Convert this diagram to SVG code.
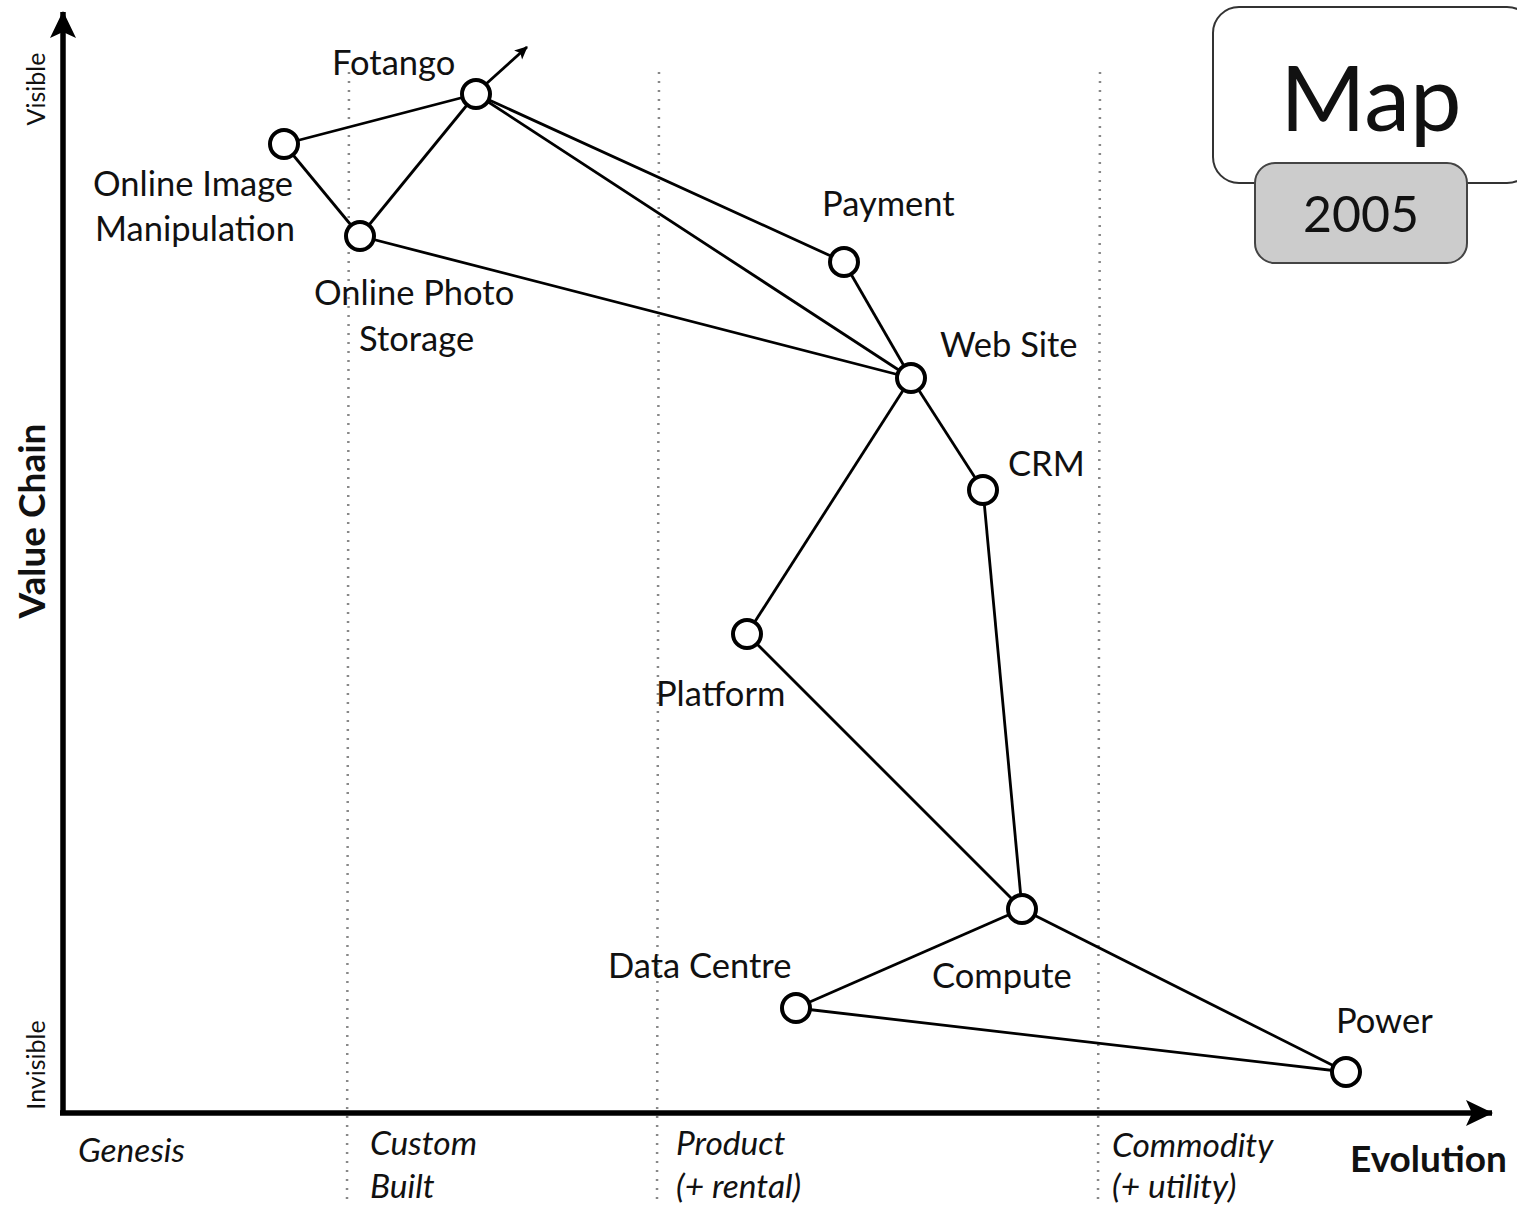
<svg xmlns="http://www.w3.org/2000/svg" width="1517" height="1209" viewBox="0 0 1517 1209">
<style>
text{font-family:Lato,"Open Sans","Liberation Sans",sans-serif;fill:#111}
.lbl{font-size:34.5px}
.ax{font-size:33.5px;font-style:italic}
.node{fill:#fff;stroke:#000;stroke-width:4}
.edge{stroke:#000;stroke-width:2.8;fill:none}
.dot{stroke:#888;stroke-width:2.5;stroke-dasharray:2 7;fill:none}
</style>
<defs>
<marker id="bigah" markerWidth="30" markerHeight="30" refX="26" refY="15" orient="auto" markerUnits="userSpaceOnUse" viewBox="0 0 30 30"><path d="M0,2 L27,15 L0,28 L6,15 Z" fill="#000"/></marker>
<marker id="smah" markerWidth="14" markerHeight="14" refX="12" refY="7" orient="auto" markerUnits="userSpaceOnUse" viewBox="0 0 14 14"><path d="M0,1 L13,7 L0,13 L3,7 Z" fill="#000"/></marker>
</defs>
<rect width="1517" height="1209" fill="#fff"/>
<g id="grid">
<line class="dot" x1="349" y1="72" x2="347" y2="1205"/>
<line class="dot" x1="659" y1="72" x2="657" y2="1205"/>
<line class="dot" x1="1100" y1="72" x2="1098" y2="1205"/>
</g>
<g id="axes">
<line x1="63" y1="1113" x2="63" y2="12" stroke="#000" stroke-width="5.5" marker-end="url(#bigah)"/>
<line x1="60" y1="1113" x2="1492" y2="1113" stroke="#000" stroke-width="5.5" marker-end="url(#bigah)"/>
<text transform="translate(45,521) rotate(-90)" text-anchor="middle" style="font-size:37px;font-weight:bold">Value Chain</text>
<text transform="translate(45,89) rotate(-90)" text-anchor="middle" style="font-size:25px">Visible</text>
<text transform="translate(45,1065) rotate(-90)" text-anchor="middle" style="font-size:25px">Invisible</text>
<text x="1350" y="1172" style="font-size:37px;font-weight:bold">Evolution</text>
<text class="ax" x="78" y="1162">Genesis</text>
<text class="ax" x="370" y="1155">Custom</text>
<text class="ax" x="370" y="1198">Built</text>
<text class="ax" x="676" y="1155">Product</text>
<text class="ax" x="676" y="1198">(+ rental)</text>
<text class="ax" x="1112" y="1157">Commodity</text>
<text class="ax" x="1112" y="1198">(+ utility)</text>
</g>
<g id="title">
<rect x="1213" y="7" width="320" height="176" rx="26" fill="#fff" stroke="#333" stroke-width="2"/>
<text x="1371" y="131" text-anchor="middle" style="font-size:92px">Map</text>
</g>
<g id="year">
<rect x="1255" y="163" width="212" height="100" rx="20" fill="#cccccc" stroke="#444" stroke-width="2"/>
<text x="1361" y="232" text-anchor="middle" style="font-size:50px">2005</text>
</g>
<g id="connectors">
<line class="edge" x1="284" y1="144" x2="476" y2="94"/>
<line class="edge" x1="284" y1="144" x2="360" y2="236"/>
<line class="edge" x1="360" y1="236" x2="476" y2="94"/>
<line class="edge" x1="476" y1="94" x2="844" y2="262"/>
<line class="edge" x1="476" y1="94" x2="911" y2="378"/>
<line class="edge" x1="360" y1="236" x2="911" y2="378"/>
<line class="edge" x1="844" y1="262" x2="911" y2="378"/>
<line class="edge" x1="911" y1="378" x2="983" y2="490"/>
<line class="edge" x1="911" y1="378" x2="747" y2="634"/>
<line class="edge" x1="983" y1="490" x2="1022" y2="909"/>
<line class="edge" x1="747" y1="634" x2="1022" y2="909"/>
<line class="edge" x1="1022" y1="909" x2="796" y2="1008"/>
<line class="edge" x1="1022" y1="909" x2="1346" y2="1072"/>
<line class="edge" x1="796" y1="1008" x2="1346" y2="1072"/>
<line class="edge" x1="486" y1="84" x2="527" y2="47" marker-end="url(#smah)"/>
</g>
<g id="n-fotango"><circle class="node" cx="476" cy="94" r="14"/><text class="lbl" x="332" y="75">Fotango</text></g>
<g id="n-oim"><circle class="node" cx="284" cy="144" r="14"/><text class="lbl" x="93" y="196">Online Image</text><text class="lbl" x="95" y="241">Manipulation</text></g>
<g id="n-ops"><circle class="node" cx="360" cy="236" r="14"/><text class="lbl" x="314" y="305">Online Photo</text><text class="lbl" x="359" y="351">Storage</text></g>
<g id="n-payment"><circle class="node" cx="844" cy="262" r="14"/><text class="lbl" x="822" y="216">Payment</text></g>
<g id="n-website"><circle class="node" cx="911" cy="378" r="14"/><text class="lbl" x="940" y="357">Web Site</text></g>
<g id="n-crm"><circle class="node" cx="983" cy="490" r="14"/><text class="lbl" x="1008" y="476">CRM</text></g>
<g id="n-platform"><circle class="node" cx="747" cy="634" r="14"/><text class="lbl" x="656" y="706">Platform</text></g>
<g id="n-compute"><circle class="node" cx="1022" cy="909" r="14"/><text class="lbl" x="932" y="988">Compute</text></g>
<g id="n-datacentre"><circle class="node" cx="796" cy="1008" r="14"/><text class="lbl" x="608" y="978">Data Centre</text></g>
<g id="n-power"><circle class="node" cx="1346" cy="1072" r="14"/><text class="lbl" x="1336" y="1033">Power</text></g>
</svg>
